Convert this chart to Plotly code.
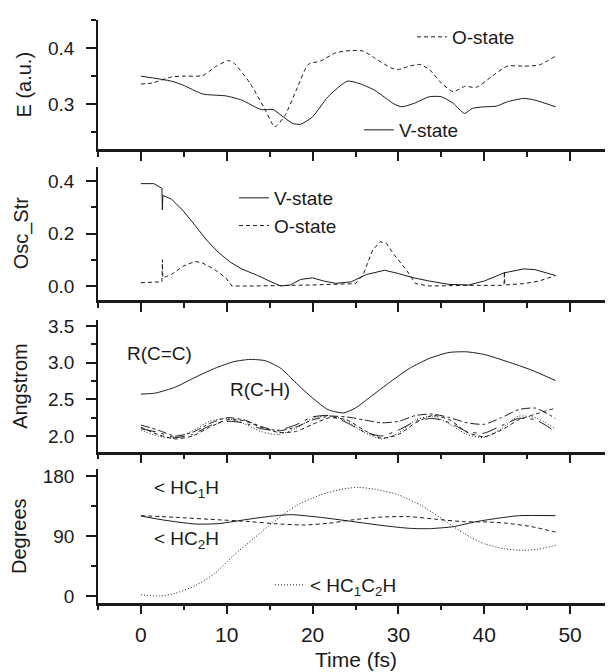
import plotly.graph_objects as go

# ---- panel 1: energies (a.u.) ----
t_e_v = [0, 3.55, 4.9, 7.2, 9.9, 11.75, 14.0, 15.4, 16.3, 17.7, 18.6, 20, 21.8, 24.05, 25.4, 27.2,
         29.5, 30.4, 31.8, 33.6, 35.0, 36.4, 37.7, 38.6, 40, 41.4, 42.7, 44.6, 45.9, 48.3]
e_v = [0.350, 0.341, 0.334, 0.318, 0.3145, 0.307, 0.290, 0.290, 0.280, 0.265, 0.2636, 0.277, 0.313,
       0.341, 0.337, 0.325, 0.300, 0.295, 0.301, 0.313, 0.313, 0.301, 0.283, 0.292, 0.295, 0.296,
       0.304, 0.310, 0.307, 0.295]
t_e_o = [0, 1.3, 3.55, 4.9, 7.2, 8.8, 10.2, 10.8, 12.7, 14.5, 15.6, 16.8, 18.1, 19.5, 20.9, 22.7,
         24.5, 25.9, 27.2, 29.1, 30.0, 31.3, 32.5, 33.6, 35.0, 36.4, 37.7, 39.1, 40.9, 42.7, 44.6,
         46.4, 48.3]
e_o = [0.336, 0.3376, 0.3485, 0.350, 0.351, 0.368, 0.378, 0.374, 0.3376, 0.289, 0.259, 0.280, 0.325,
       0.371, 0.377, 0.392, 0.396, 0.395, 0.383, 0.365, 0.362, 0.368, 0.371, 0.362, 0.3376, 0.322,
       0.3315, 0.330, 0.3497, 0.368, 0.368, 0.370, 0.386]

# ---- panel 2: oscillator strength ----
t_f_v = [0, 1.5, 2.45, 2.5, 2.55, 3.55, 4.9, 6.3, 7.65, 9.0, 10.4, 11.75, 13.6, 15.4, 16.3, 17.4,
         18.6, 20.0, 21.3, 22.7, 24.5, 26.3, 28.4, 30.0, 31.8, 33.6, 35.9, 38.2, 40.0, 42.3, 44.6,
         45.9, 48.3]
f_v = [0.39, 0.39, 0.372, 0.29, 0.345, 0.331, 0.2875, 0.231, 0.175, 0.129, 0.091, 0.065, 0.040,
       0.0125, 0.0, 0.004, 0.025, 0.031, 0.019, 0.010, 0.016, 0.044, 0.060, 0.0475, 0.031, 0.019,
       0.006, 0.004, 0.019, 0.050, 0.065, 0.0625, 0.040]
t_f_o = [0, 2.45, 2.5, 2.55, 3.55, 4.9, 6.3, 7.2, 8.6, 9.9, 10.6, 13.1, 20.0, 22.7, 25.0, 25.9,
         27.0, 27.9, 28.6, 29.5, 30.9, 32.0, 33.6, 38.2, 42.3, 42.35, 42.4, 44.6, 46.4, 48.3]
f_o = [0.0125, 0.016, 0.10, 0.031, 0.044, 0.075, 0.094, 0.0875, 0.0625, 0.031, 0.0, 0.0, 0.004,
       0.006, 0.009, 0.044, 0.1375, 0.169, 0.1625, 0.119, 0.0625, 0.009, 0.0, 0.0025, 0.0025,
       0.056, 0.004, 0.009, 0.019, 0.040]

# ---- panel 3: bond lengths (Angstrom) ----
t_cc = [0, 1.7, 4.0, 6.3, 8.6, 10.8, 12.7, 14.5, 16.3, 18.1, 20.0, 21.8, 23.6, 25.0, 26.8, 29.1,
        31.3, 33.6, 35.9, 37.9, 40.0, 42.7, 45.5, 48.3]
r_cc = [2.572, 2.586, 2.667, 2.80, 2.923, 3.014, 3.045, 3.027, 2.923, 2.72, 2.518, 2.36, 2.315,
        2.383, 2.54, 2.743, 2.923, 3.059, 3.14, 3.149, 3.113, 3.014, 2.90, 2.757]
t_ch = [0, 2, 4, 6, 8, 10, 12, 14, 16, 18, 20, 22, 24, 26, 28, 30, 32, 34, 36, 38, 40, 42, 44, 46, 48.3]
r_ch1 = [2.15, 2.08, 2.00, 2.05, 2.17, 2.25, 2.22, 2.13, 2.07, 2.12, 2.22, 2.27, 2.26, 2.22, 2.18,
         2.20, 2.28, 2.30, 2.25, 2.18, 2.16, 2.25, 2.36, 2.38, 2.24]
r_ch2 = [2.12, 2.02, 1.96, 2.00, 2.12, 2.22, 2.21, 2.12, 2.05, 2.06, 2.16, 2.25, 2.22, 2.08, 1.97,
         2.02, 2.18, 2.28, 2.22, 2.05, 1.99, 2.08, 2.22, 2.30, 2.38]
r_ch3 = [2.08, 2.00, 1.97, 2.07, 2.20, 2.24, 2.17, 2.06, 2.02, 2.10, 2.24, 2.28, 2.20, 2.05, 1.96,
         2.04, 2.22, 2.27, 2.16, 2.02, 1.98, 2.10, 2.27, 2.25, 2.10]
r_ch4 = [2.10, 2.05, 1.98, 2.02, 2.14, 2.20, 2.18, 2.10, 2.08, 2.15, 2.26, 2.28, 2.18, 2.06, 2.00,
         2.08, 2.20, 2.24, 2.18, 2.06, 2.04, 2.14, 2.24, 2.22, 2.06]

# ---- panel 4: angles (degrees) ----
t_a1 = [0, 2.6, 6.3, 9.0, 12.7, 15.4, 17.5, 20.9, 24.5, 28.2, 31.3, 33.6, 36.4, 39.1, 41.8, 44.1, 48.3]
a_hc1h = [120, 114, 108, 108.5, 115.5, 120, 122, 118, 112, 105.6, 101.5, 101, 104, 111.6, 117, 120.5, 120.5]
t_a2 = [0, 4.0, 8.6, 12.7, 15.5, 19.0, 21.8, 24.5, 28.2, 31.3, 34.5, 37.6, 40.4, 42.7, 45.5, 48.3]
a_hc2h = [120.5, 118, 114.6, 111.6, 108.5, 106.5, 109, 114, 118.5, 119, 115, 111.5, 111, 109, 104, 96]
t_a3 = [0, 2.2, 4.0, 6.3, 8.6, 10.8, 13.1, 15.4, 18.1, 20.9, 23.6, 25.3, 27.2, 30.0, 32.7, 35.4,
        37.7, 40.0, 42.3, 44.6, 46.4, 48.3]
a_hcch = [2, 0, 4, 15.4, 33.7, 61, 85.8, 110.6, 135.4, 151.7, 160.5, 163, 160.2, 151.7, 135.4, 113,
          93.2, 78.4, 71, 68.4, 70.5, 76]

FONT = "Arial, Liberation Sans, sans-serif"
INK = "#1a1a1a"
OFF = 8            # page body margin of the browser
W, H = 613 - OFF, 672 - OFF
ML = 98 - OFF


def px_x(p):
    # window pixel -> paper fraction
    return (p - OFF - ML) / (W - ML)


def px_y(p):
    return 1 - (p - OFF) / H


def line(x, y, dash, xa, ya, name=None, legend=None, shape="spline"):
    return go.Scatter(x=x, y=y, mode="lines", name=name,
                      line=dict(color=INK, width=1, dash=dash, shape=shape, smoothing=0.6),
                      xaxis=xa, yaxis=ya, showlegend=legend is not None,
                      legend=legend or "legend", hoverinfo="skip")


fig = go.Figure()
fig.add_trace(line(t_e_o, e_o, "4px,3px", "x", "y", "O-state", "legend"))
fig.add_trace(line(t_e_v, e_v, "solid", "x", "y", "V-state", "legend2"))
fig.add_trace(line(t_f_v, f_v, "solid", "x2", "y2", "V-state", "legend3", shape="linear"))
fig.add_trace(line(t_f_o, f_o, "4px,3px", "x2", "y2", "O-state", "legend3", shape="linear"))
fig.add_trace(line(t_cc, r_cc, "solid", "x3", "y3"))
for r, d in [(r_ch1, "dashdot"), (r_ch2, "4px,3px"), (r_ch3, "1px,2px"), (r_ch4, "longdashdot")]:
    fig.add_trace(line(t_ch, r, d, "x3", "y3"))
fig.add_trace(line(t_a1, a_hc1h, "solid", "x4", "y4"))
fig.add_trace(line(t_a2, a_hc2h, "4px,3px", "x4", "y4"))
fig.add_trace(line(t_a3, a_hcch, "1px,2px", "x4", "y4",
                   "&lt; HC<sub>1</sub>C<sub>2</sub>H", "legend4"))

# panel window-pixel extents (top, bottom) and value ranges
panels = [(20, 149, [0.2192, 0.4508], 0.1, 0.05, "E (a.u.)", 23),
          (166.7, 300, [-0.0533, 0.4545], 0.2, 0.1, "Osc_Str", 21),
          (320, 451.7, [1.786, 3.583], 0.5, 0.25, "Angstrom", 20),
          (469.3, 602.7, [-10, 190], 90, 45, "Degrees", 19)]

layout = dict(width=W, height=H, margin=dict(l=ML, r=0, t=0, b=0),
              paper_bgcolor="white", plot_bgcolor="white",
              font=dict(family=FONT, color=INK), annotations=[])

for i, (top, bot, rng, dt, mdt, title, tx) in enumerate(panels):
    k = "" if i == 0 else str(i + 1)
    dom = [px_y(bot), px_y(top)]
    last = i == 3
    layout["xaxis" + k] = dict(
        domain=[0, 1], anchor="y" + k, range=[-5, 55], dtick=10, tick0=0,
        ticks="outside", ticklen=9, tickwidth=1.5, tickcolor=INK,
        minor=dict(dtick=5, tick0=-5, ticks="outside", ticklen=5, tickwidth=1.5, tickcolor=INK),
        showline=True, linewidth=2.5, linecolor=INK, showgrid=False, zeroline=False,
        showticklabels=last, tickfont=dict(size=21, family=FONT, color=INK),
        ticklabelstandoff=2, automargin=False)
    layout["yaxis" + k] = dict(
        domain=dom, anchor="x" + k, range=rng, dtick=dt, tick0=0,
        ticks="outside", ticklen=10, tickwidth=1.5, tickcolor=INK,
        minor=dict(dtick=mdt, tick0=0, ticks="outside", ticklen=5, tickwidth=1.5, tickcolor=INK),
        showline=True, linewidth=1.5, linecolor=INK, showgrid=False, zeroline=False,
        tickfont=dict(size=19, family=FONT, color=INK), ticklabelstandoff=8,
        tickformat=".1f" if i < 3 else "d", automargin=False)
    layout["annotations"].append(dict(
        text=title, xref="paper", yref="paper", x=px_x(tx), y=(dom[0] + dom[1]) / 2,
        textangle=-90, showarrow=False, font=dict(size=20, family=FONT, color=INK),
        xanchor="center", yanchor="middle"))

layout["annotations"].append(dict(
    text="Time (fs)", xref="paper", yref="paper", x=0.5, y=px_y(659), showarrow=False,
    font=dict(size=21, family=FONT, color=INK), xanchor="center", yanchor="middle"))

txt = dict(showarrow=False, font=dict(size=19, family=FONT, color=INK), xanchor="left", yanchor="middle")
layout["annotations"] += [
    dict(text="R(C=C)", xref="x3", yref="y3", x=-1.8, y=3.13, **txt),
    dict(text="R(C-H)", xref="x3", yref="y3", x=10.1, y=2.63, **txt),
    dict(text="&lt; HC<sub>1</sub>H", xref="x4", yref="y4", x=1.3, y=160, **txt),
    dict(text="&lt; HC<sub>2</sub>H", xref="x4", yref="y4", x=1.3, y=84, **txt),
]

leg = dict(bgcolor="rgba(0,0,0,0)", borderwidth=0, font=dict(size=19, family=FONT, color=INK),
           xanchor="left", yanchor="middle", itemwidth=30, tracegroupgap=0)
layout["legend"] = dict(x=px_x(412), y=px_y(37), **leg)
layout["legend2"] = dict(x=px_x(359), y=px_y(130), **leg)
layout["legend3"] = dict(x=px_x(234), y=px_y(212), **leg)
layout["legend4"] = dict(x=px_x(270), y=px_y(585), **leg)

fig.update_layout(**layout)
fig.write_html("out.html")
